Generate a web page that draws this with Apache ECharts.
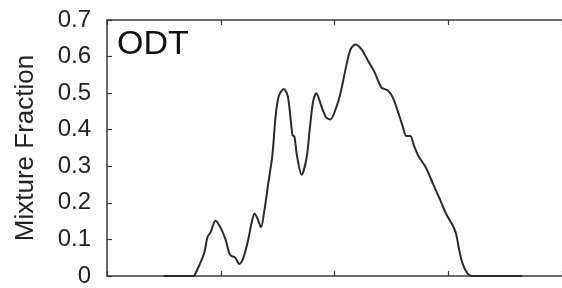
<!DOCTYPE html>
<html>
<head>
<meta charset="utf-8">
<script src="https://cdn.jsdelivr.net/npm/echarts@6/dist/echarts.min.js"></script>
<style>html,body{margin:0;padding:0;background:#fff}#c{width:562px;height:288px}</style>
</head>
<body>
<div id="c"></div>
<script>
const xValues = [0.497,0.754,0.769,0.812,0.855,0.883,0.911,0.954,0.997,1.040,1.083,1.125,1.163,1.197,1.240,1.269,1.297,1.326,1.354,1.383,1.412,1.454,1.483,1.511,1.554,1.588,1.611,1.631,1.648,1.669,1.711,1.754,1.783,1.811,1.840,1.883,1.926,1.963,2.011,2.054,2.097,2.140,2.183,2.240,2.297,2.354,2.411,2.469,2.511,2.554,2.597,2.631,2.666,2.697,2.740,2.797,2.869,2.926,2.983,3.040,3.069,3.097,3.126,3.169,3.211,3.651];
const mixture = [0,0,0.002,0.030,0.063,0.106,0.120,0.151,0.133,0.102,0.057,0.051,0.033,0.048,0.097,0.142,0.171,0.155,0.133,0.178,0.241,0.331,0.439,0.493,0.511,0.493,0.439,0.385,0.381,0.331,0.277,0.322,0.403,0.475,0.500,0.466,0.434,0.428,0.457,0.502,0.565,0.619,0.633,0.619,0.587,0.556,0.516,0.507,0.489,0.453,0.412,0.383,0.383,0.358,0.327,0.300,0.250,0.210,0.169,0.138,0.115,0.070,0.034,0.007,0,0];
const yTicks = [0,0.1,0.2,0.3,0.4,0.5,0.6,0.7];
const yName = 'Mixture Fraction';
const panelTitle = 'ODT';

const chart = echarts.init(document.getElementById('c'), null, {renderer:'canvas'});
const axisCol = '#3a3a3a';
const font = 'Liberation Sans, Arial, Helvetica, sans-serif';
chart.setOption({
  animation: false,
  backgroundColor: '#fff',
  grid: {left: 107, top: 20, bottom: 9, right: -12, containLabel: false},
  xAxis: [{
    type: 'value', min: 0, max: 4, interval: 1, position: 'bottom',
    axisLine: {show: true, onZero: false, lineStyle: {color: axisCol, width: 1.5}},
    axisTick: {show: true, inside: true, length: 5, lineStyle: {color: axisCol, width: 1.2}},
    axisLabel: {show: false}, splitLine: {show: false}
  },{
    type: 'value', min: 0, max: 4, interval: 1, position: 'top',
    axisLine: {show: true, onZero: false, lineStyle: {color: axisCol, width: 1.5}},
    axisTick: {show: true, inside: true, length: 5, lineStyle: {color: axisCol, width: 1.2}},
    axisLabel: {show: false}, splitLine: {show: false}
  }],
  yAxis: {
    type: 'value', min: 0, max: 0.7, interval: 0.1,
    axisLine: {show: true, lineStyle: {color: axisCol, width: 1.5}},
    axisTick: {show: true, inside: true, length: 5, lineStyle: {color: axisCol, width: 1.2}},
    axisLabel: {show: true, margin: 16, fontSize: 24, color: '#222', fontFamily: font,
      formatter: v => { const t = yTicks.find(k => Math.abs(k - v) < 1e-9); return t === 0 ? '0' : String(t); }},
    splitLine: {show: false},
    name: yName, nameLocation: 'middle', nameGap: 68, nameRotate: 90,
    nameTextStyle: {fontSize: 26, color: '#222', fontFamily: font}
  },
  graphic: [{
    type: 'text', left: 117, top: 28,
    style: {text: panelTitle, fontSize: 34, fill: '#111', font: '34px ' + font}
  }],
  series: [{
    type: 'line', data: xValues.map((x, i) => [x, mixture[i]]),
    smooth: 0.3, showSymbol: false, symbol: 'none', clip: false,
    lineStyle: {color: '#2a2a2a', width: 2}
  }]
});
</script>
</body>
</html>
